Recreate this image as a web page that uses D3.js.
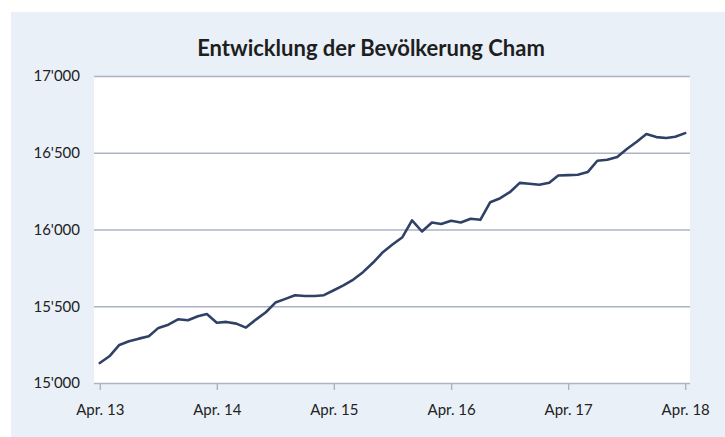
<!DOCTYPE html>
<html>
<head>
<meta charset="utf-8">
<script src="https://cdn.jsdelivr.net/npm/d3@7"></script>
<style>
  body { margin: 0; background: #fff; }
  svg { display: block; font-family: Lato, "Open Sans", sans-serif; }
</style>
</head>
<body>
<figure style="margin:0"></figure>
<script>
// Monatliche Bevölkerung Cham, April 2013 bis April 2018
const firstMonth = new Date(2013, 3, 1);
const lastMonth = new Date(2018, 3, 1);
const population = [
  15130, 15174, 15248, 15272, 15289, 15304, 15359, 15380, 15415, 15409, 15435, 15449,
  15393, 15398, 15387, 15361, 15413, 15461, 15524, 15548, 15572, 15567, 15567, 15572,
  15604, 15636, 15674, 15722, 15783, 15852, 15902, 15950, 16059, 15987, 16046, 16036,
  16057, 16046, 16070, 16063, 16178, 16204, 16243, 16304, 16298, 16291, 16304, 16352,
  16354, 16357, 16374, 16448, 16454, 16472, 16524, 16572, 16622, 16602, 16596, 16604,
  16628
];
const xTickLabels = ["Apr. 13", "Apr. 14", "Apr. 15", "Apr. 16", "Apr. 17", "Apr. 18"];
const yTicks = [15000, 15500, 16000, 16500, 17000];
const title = "Entwicklung der Bevölkerung Cham";

const width = 725, height = 437;
const plot = { left: 94, right: 690, top: 76, bottom: 383 };

const months = d3.timeMonth.range(firstMonth, d3.timeMonth.offset(lastMonth, 1));
const data = months.map((d, i) => ({ date: d, value: population[i] }));
const aprils = months.filter(d => d.getMonth() === 3);

const locale = d3.formatLocale({ decimal: ".", thousands: "'", grouping: [3], currency: ["", ""] });
const fmt = locale.format(",");

const svg = d3.select("figure").append("svg")
  .attr("width", width)
  .attr("height", height);

// panel background
svg.append("rect")
  .attr("x", 11).attr("y", 12)
  .attr("width", width - 11).attr("height", height - 12)
  .attr("fill", "#e9f0f8");

const x = d3.scaleTime()
  .domain([d3.timeDay.offset(firstMonth, -18), d3.timeDay.offset(lastMonth, 15)])
  .range([plot.left, plot.right]);
const y = d3.scaleLinear()
  .domain([15000, 17000])
  .range([plot.bottom, plot.top]);

svg.append("rect")
  .attr("x", plot.left).attr("y", plot.top)
  .attr("width", plot.right - plot.left).attr("height", plot.bottom - plot.top)
  .attr("fill", "#fff");

svg.append("text")
  .attr("x", 371).attr("y", 56)
  .attr("text-anchor", "middle")
  .style("font-size", "22px")
  .style("font-weight", "bold")
  .attr("fill", "#1e1e1e")
  .text(title);

// y grid + labels
const yAxis = svg.append("g")
  .attr("transform", `translate(${plot.left},0)`)
  .call(d3.axisLeft(y).tickValues(yTicks).tickFormat(fmt)
    .tickSize(-(plot.right - plot.left)).tickPadding(14));
yAxis.select(".domain").remove();
yAxis.selectAll(".tick line").attr("stroke", "#adb3c6").attr("stroke-width", 1.4);
yAxis.selectAll(".tick text")
  .attr("fill", "#222").style("font-size", "15px").style("font-family", "Lato, sans-serif");

// x axis
const xAxis = svg.append("g")
  .attr("transform", `translate(0,${plot.bottom})`)
  .call(d3.axisBottom(x).tickValues(aprils)
    .tickFormat((d, i) => xTickLabels[i]).tickSize(7).tickPadding(14));
xAxis.select(".domain").remove();
xAxis.selectAll(".tick line").attr("stroke", "#adb3c6").attr("stroke-width", 1.4);
xAxis.selectAll(".tick text")
  .attr("fill", "#222").style("font-size", "15px").style("font-family", "Lato, sans-serif");

const line = d3.line()
  .x(d => x(d.date))
  .y(d => y(d.value));

svg.append("path")
  .datum(data)
  .attr("d", line)
  .attr("fill", "none")
  .attr("stroke", "#2f4266")
  .attr("stroke-width", 2.6)
  .attr("stroke-linejoin", "round")
  .attr("stroke-linecap", "round");
</script>
</body>
</html>
